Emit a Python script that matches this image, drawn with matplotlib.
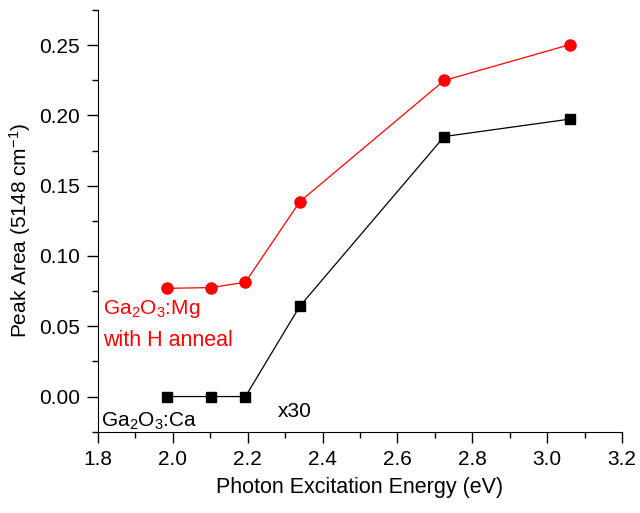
import matplotlib
matplotlib.use('Agg')
import matplotlib.pyplot as plt
from matplotlib.ticker import MultipleLocator

plt.rcParams['font.family'] = ['Liberation Sans', 'DejaVu Sans']
plt.rcParams['mathtext.default'] = 'regular'

energy = [1.984, 2.101, 2.194, 2.339, 2.725, 3.061]
mg_area = [0.0770, 0.0775, 0.0813, 0.1386, 0.2249, 0.2504]
ca_area = [0.0, 0.0, 0.0, 0.0642, 0.1850, 0.1974]

fig = plt.figure(figsize=(6.4, 5.13), dpi=100)
ax = fig.add_axes([0.153, 0.1585, 0.819, 0.822])

ax.plot(energy, ca_area, color='black', lw=0.9, marker='s', ms=6.5)
ax.plot(energy, mg_area, color='red', lw=0.9, marker='o', ms=8)

ax.text(1.814, 0.0585, r'Ga$_2$O$_3$:Mg', color='red', fontsize=15, va='baseline')
ax.text(1.814, 0.0357, 'with H anneal', color='red', fontsize=15.5, va='baseline')
ax.text(1.807, -0.0212, r'Ga$_2$O$_3$:Ca', color='black', fontsize=15, va='baseline')
ax.text(2.281, -0.0148, 'x30', color='black', fontsize=15, va='baseline')

ax.set_xlim(1.8, 3.2)
ax.set_ylim(-0.025, 0.275)
ax.xaxis.set_major_locator(MultipleLocator(0.2))
ax.xaxis.set_minor_locator(MultipleLocator(0.1))
ax.yaxis.set_major_locator(MultipleLocator(0.05))
ax.yaxis.set_minor_locator(MultipleLocator(0.025))
ax.xaxis.set_major_formatter(plt.FormatStrFormatter('%.1f'))
ax.yaxis.set_major_formatter(plt.FormatStrFormatter('%.2f'))
ax.spines['top'].set_visible(False)
ax.spines['right'].set_visible(False)
ax.tick_params(which='major', direction='out', length=8, width=1, labelsize=15, pad=5)
ax.tick_params(which='minor', direction='out', length=4.5, width=1)
ax.set_xlabel('Photon Excitation Energy (eV)', fontsize=15.5, labelpad=6)
ax.set_ylabel('Peak Area (5148 cm$^{-1}$)', fontsize=15)
ax.yaxis.set_label_coords(-0.124, 0.478)

fig.savefig('out.png', dpi=100)
